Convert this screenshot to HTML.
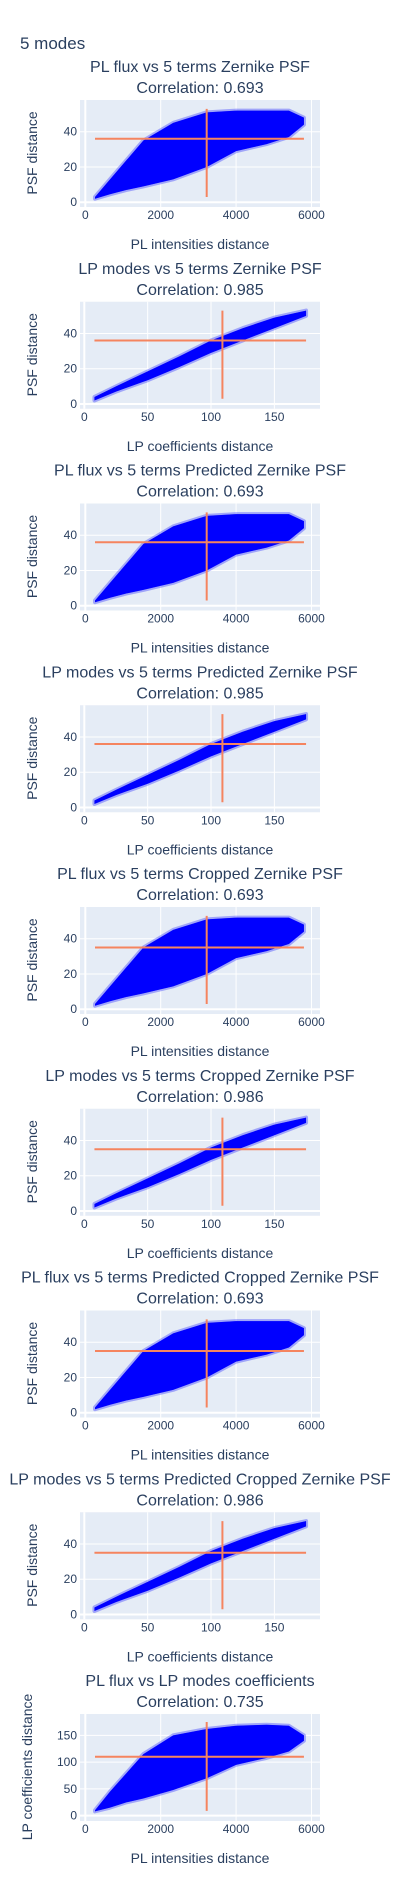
<!DOCTYPE html>
<html><head><meta charset="utf-8"><style>
body{margin:0;background:#fff;}
svg{display:block;font-family:"Liberation Sans","DejaVu Sans",sans-serif;}
</style></head><body>
<svg id="fig" width="400" height="1900">
<text x="20" y="49" font-size="17" fill="#2a3f5f">5 modes</text>
</svg>
<script>
// ---- data ----
const titles = ["PL flux vs 5 terms Zernike PSF","LP modes vs 5 terms Zernike PSF","PL flux vs 5 terms Predicted Zernike PSF","LP modes vs 5 terms Predicted Zernike PSF","PL flux vs 5 terms Cropped Zernike PSF","LP modes vs 5 terms Cropped Zernike PSF","PL flux vs 5 terms Predicted Cropped Zernike PSF","LP modes vs 5 terms Predicted Cropped Zernike PSF","PL flux vs LP modes coefficients"];
const correlations = ["0.693","0.985","0.693","0.985","0.693","0.986","0.693","0.986","0.735"];
const kinds = ["pl","lp","pl","lp","pl","lp","pl","lp","plc"];
const meanY = [36,36,36,36,35,35,35,35,110];
const plCloudX = [257,655,1098,1540,2330,3220,4000,4810,5400,5800];
const plUpper = [3,13,24,35,45,51,52,52,52,48];
const plLower = [2,4.5,7,9,13,20,29,33,37,44];
const lpCloudX = [8,25,50,75,100,125,150,175];
const lpUpper = [4,10,18.5,27,36,43,49,53];
const lpLower = [2,7,13.5,21,29,36,43,50];
const plcUpper = [10,45,80,115,150,162,168,170,168,150];
const plcLower = [8,15,25,32,48,70,95,108,120,140];
const plXTicks = [0,2000,4000,6000];
const lpXTicks = [0,50,100,150];
const psfYTicks = [0,20,40];
const lpYTicks = [0,50,100,150];
const plMeanX = 3220, lpMeanX = 109;
const plXMinMax = [257,5800], lpXMinMax = [8,175];
const psfYMinMax = [3,53], lpcYMinMax = [9,175];

const NS="http://www.w3.org/2000/svg";
const svg=document.getElementById('fig');
function mk(tag,attrs,parent){const e=document.createElementNS(NS,tag);for(const k in attrs)e.setAttribute(k,attrs[k]);(parent||svg).appendChild(e);return e;}

const L=80,R=320,H=107,pitch=201.75,top0=100;
for(let i=0;i<9;i++){
  const T=top0+i*pitch, B=T+H;
  const kind=kinds[i];
  const g=mk('g',{});
  
  
  let xr,yr,xt,yt,xtitle,ytitle,cx,up,lo,mx,xmm,ymm;
  if(kind==='lp'){xr=[-3.4,186];xt=lpXTicks;xtitle="LP coefficients distance";cx=lpCloudX;up=lpUpper;lo=lpLower;mx=lpMeanX;xmm=lpXMinMax;}
  else {xr=[-141,6226];xt=plXTicks;xtitle="PL intensities distance";cx=plCloudX;mx=plMeanX;xmm=plXMinMax;up=plUpper;lo=plLower;}
  if(kind==='plc'){yr=[-10,190];yt=lpYTicks;ytitle="LP coefficients distance";up=plcUpper;lo=plcLower;ymm=lpcYMinMax;}
  else {yr=[-2.7,58];yt=psfYTicks;ytitle="PSF distance";ymm=psfYMinMax;}
  const X=v=>L+(v-xr[0])/(xr[1]-xr[0])*(R-L);
  const Y=v=>B-(v-yr[0])/(yr[1]-yr[0])*H;
  const bg=mk('rect',{x:L,y:T,width:R-L,height:H,fill:'#E5ECF6'},g);
  
  
  xt.forEach(t=>{
    mk('line',{x1:X(t),x2:X(t),y1:T,y2:B,stroke:'#fff','stroke-width':t===0?2:1},g);
    const tx=mk('text',{x:X(t),y:B+12,'font-size':12,fill:'#2a3f5f','text-anchor':'middle'},g);tx.textContent=t;
    
    
  });
  yt.forEach(t=>{
    mk('line',{x1:L,x2:R,y1:Y(t),y2:Y(t),stroke:'#fff','stroke-width':t===0?2:1},g);
    const tx=mk('text',{x:L-3,y:Y(t)+4,'font-size':12,fill:'#2a3f5f','text-anchor':'end'},g);tx.textContent=t;
    
    
  });
  let pts=[];
  cx.forEach((v,k)=>pts.push(X(v)+','+Y(up[k])));
  for(let k=cx.length-1;k>=0;k--)pts.push(X(cx[k])+','+Y(lo[k]));
  const halo=mk('polygon',{points:pts.join(' '),fill:'#0000ff','fill-opacity':0.35,stroke:'#0000ff','stroke-opacity':0.3,'stroke-width':4,'stroke-linejoin':'round'},g);
  
  
  const cl=mk('polygon',{points:pts.join(' '),fill:'#0000ff','stroke':'none'},g);
  
  
  const hl=mk('line',{x1:X(xmm[0]),x2:X(xmm[1]),y1:Y(meanY[i]),y2:Y(meanY[i]),stroke:'#F5845F','stroke-width':2},g);
  
  
  const vl=mk('line',{x1:X(mx),x2:X(mx),y1:Y(ymm[0]),y2:Y(ymm[1]),stroke:'#F5845F','stroke-width':2},g);
  
  
  const t1=mk('text',{x:200,y:T-28,'font-size':16,fill:'#2a3f5f','text-anchor':'middle'},g);t1.textContent=titles[i];
  
  
  const t2=mk('text',{x:200,y:T-7,'font-size':16,fill:'#2a3f5f','text-anchor':'middle'},g);t2.textContent="Correlation: "+correlations[i];
  
  
  const xa=mk('text',{x:200,y:B+42,'font-size':14,fill:'#2a3f5f','text-anchor':'middle'},g);xa.textContent=xtitle;
  
  
  const ycx=kind==='plc'?32:37, ycy=T+53;
  const ya=mk('text',{x:ycx,y:ycy,'font-size':14,fill:'#2a3f5f','text-anchor':'middle',transform:`rotate(-90 ${ycx} ${ycy})`},g);ya.textContent=ytitle;
  
  
}
</script>
</body></html>
